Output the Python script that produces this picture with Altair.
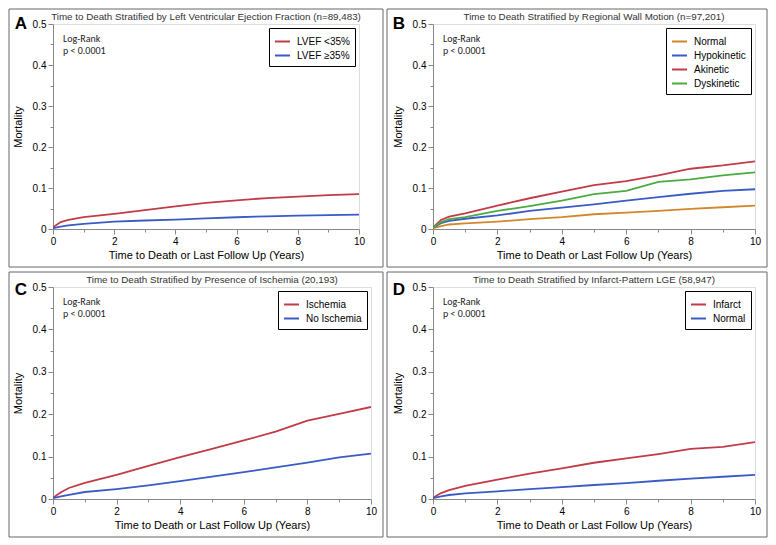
import altair as alt
import pandas as pd

SANS = "'Liberation Sans', Arial, sans-serif"
CAL = "Carlito, Lato, 'Noto Sans', sans-serif"

years = [0, 0.25, 0.5, 1, 2, 3, 4, 5, 6, 7, 8, 9, 10]

panel_letters = ["A", "B", "C", "D"]
panel_titles = [
    "Time to Death Stratified by Left Ventricular Ejection Fraction (n=89,483)",
    "Time to Death Stratified by Regional Wall Motion (n=97,201)",
    "Time to Death Stratified by Presence of Ischemia (20,193)",
    "Time to Death Stratified by Infarct-Pattern LGE (58,947)",
]
logrank_text = "Log-Rank\np < 0.0001"

a_groups = ["LVEF <35%", "LVEF \u226535%"]
a_low = [0.004, 0.017, 0.022, 0.029, 0.037, 0.046, 0.055, 0.0635, 0.070, 0.0755, 0.079, 0.0826, 0.085]
a_high = [0.002, 0.006, 0.009, 0.0126, 0.018, 0.0207, 0.023, 0.026, 0.0286, 0.031, 0.0326, 0.034, 0.035]

b_groups = ["Normal", "Hypokinetic", "Akinetic", "Dyskinetic"]
b_normal = [0.002, 0.007, 0.011, 0.0135, 0.018, 0.024, 0.029, 0.036, 0.040, 0.044, 0.049, 0.053, 0.057]
b_hypo = [0.003, 0.014, 0.020, 0.025, 0.033, 0.044, 0.052, 0.060, 0.069, 0.078, 0.086, 0.093, 0.097]
b_aki = [0.004, 0.022, 0.030, 0.038, 0.057, 0.075, 0.091, 0.107, 0.117, 0.131, 0.147, 0.155, 0.165]
b_dys = [0.003, 0.017, 0.024, 0.029, 0.044, 0.056, 0.069, 0.085, 0.093, 0.115, 0.121, 0.131, 0.138]

c_groups = ["Ischemia", "No Ischemia"]
c_isch = [0.003, 0.016, 0.026, 0.038, 0.057, 0.078, 0.099, 0.118, 0.138, 0.159, 0.185, 0.201, 0.217]
c_none = [0.002, 0.006, 0.010, 0.0165, 0.0235, 0.032, 0.042, 0.053, 0.0635, 0.0745, 0.086, 0.098, 0.107]

d_groups = ["Infarct", "Normal"]
d_inf = [0.003, 0.014, 0.021, 0.031, 0.0455, 0.060, 0.072, 0.0855, 0.0957, 0.106, 0.118, 0.123, 0.134]
d_norm = [0.002, 0.006, 0.0094, 0.0133, 0.018, 0.0235, 0.028, 0.033, 0.0376, 0.043, 0.048, 0.0525, 0.057]

RED = "#c23b48"
BLUE = "#3a5bc7"
ORANGE = "#d4872a"
GREEN = "#4caa44"

y_ticks = [0, 0.05, 0.1, 0.15, 0.2, 0.25, 0.3, 0.35, 0.4, 0.45, 0.5]
x_ticks = [0, 1, 2, 3, 4, 5, 6, 7, 8, 9, 10]


def panel(idx, groups, series, colors, w, h, box, letter_x, letter_y):
    rows = []
    for g, vals in zip(groups, series):
        for t, m in zip(years, vals):
            rows.append({"t": t, "m": m, "g": g})
    df = pd.DataFrame(rows)

    xaxis = alt.Axis(
        values=x_ticks,
        labelExpr="datum.value % 2 == 0 ? datum.label : ''",
        tickSize={"condition": {"test": "datum.value % 2 == 0", "value": 5}, "value": 3},
        title="Time to Death or Last Follow Up (Years)",
        labelFlush=False, labelOverlap=False, grid=False,
        labelPadding=2, titlePadding=3, titleFontWeight="normal",
    )
    yaxis = alt.Axis(
        values=y_ticks,
        labelExpr="round(datum.value*100) % 10 == 0 ? (datum.value == 0 ? '0' : format(datum.value, '.1f')) : ''",
        tickSize={"condition": {"test": "round(datum.value*100) % 10 == 0", "value": 5}, "value": 3},
        title="Mortality",
        labelFlush=False, labelOverlap=False, grid=False,
        labelPadding=2, titlePadding=9, titleFontWeight="normal",
    )
    lines = alt.Chart(df).mark_line(strokeWidth=1.8, clip=True).encode(
        x=alt.X("t:Q", scale=alt.Scale(domain=[0, 10], nice=False), axis=xaxis),
        y=alt.Y("m:Q", scale=alt.Scale(domain=[0, 0.5], nice=False), axis=yaxis),
        color=alt.Color(
            "g:N",
            scale=alt.Scale(domain=groups, range=colors),
            legend=alt.Legend(
                title=None, orient="top-right", offset=4,
                strokeColor="black", fillColor="white", padding=5,
                symbolType="stroke", symbolSize=225, symbolStrokeWidth=2,
                labelFont=SANS, labelFontSize=10, labelColor="black",
                rowPadding=0, labelOffset=6,
            ),
        ),
    )
    one = pd.DataFrame({"s": [""]})
    border = alt.Chart(one).mark_rect(fill="white", fillOpacity=0, stroke="#666", strokeWidth=1).encode(
        x=alt.value(box[0]), x2=alt.value(w + box[1]),
        y=alt.value(box[2]), y2=alt.value(h + box[3]),
    )
    title = alt.Chart(pd.DataFrame({"s": [panel_titles[idx]]})).mark_text(
        font=SANS, fontSize=9.8, color="#333", baseline="alphabetic", align="center"
    ).encode(text="s:N", x=alt.value(w / 2), y=alt.value(-4))
    letter = alt.Chart(pd.DataFrame({"s": [panel_letters[idx]]})).mark_text(
        font=SANS, fontSize=17, fontWeight="bold",
        color="black", baseline="alphabetic", align="center"
    ).encode(text="s:N", x=alt.value(letter_x), y=alt.value(letter_y))
    logrank = alt.Chart(pd.DataFrame({"s": [logrank_text]})).mark_text(
        font=CAL, fontSize=10, color="#222", baseline="alphabetic", align="left",
        lineBreak="\n", lineHeight=12,
    ).encode(text="s:N", x=alt.value(10), y=alt.value(18))
    return alt.layer(border, title, letter, logrank, lines).properties(width=w, height=h)


pA = panel(0, a_groups, [a_low, a_high], [RED, BLUE], 306, 205, (-44, 24, -15, 38), -32, 5)
pB = panel(1, b_groups, [b_normal, b_hypo, b_aki, b_dys], [ORANGE, BLUE, RED, GREEN], 322, 205, (-46, 12, -15, 38), -34, 5)
pC = panel(2, c_groups, [c_isch, c_none], [RED, BLUE], 318, 212, (-44, 12, -15, 38), -32, 8)
pD = panel(3, d_groups, [d_inf, d_norm], [RED, BLUE], 322, 212, (-46, 12, -15, 38), -34, 8)

chart = (
    alt.concat(pA, pB, pC, pD, columns=2, spacing={"row": 58, "column": 62}, bounds="flush")
    .resolve_scale(color="independent")
    .resolve_legend(color="independent")
    .properties(padding=0)
    .configure_view(stroke="#999", strokeWidth=1)
    .configure_axis(
        domainColor="#999", tickColor="#999", labelColor="#222",
        labelFont=SANS, labelFontSize=10, titleFont=SANS, titleFontSize=10.5,
        titleFontWeight="normal", titleColor="#222",
    )
    .configure_legend(strokeWidth=1.5)
    .configure(background="white")
)

chart.save("out.html", embed_options={"renderer": "svg", "actions": False})
